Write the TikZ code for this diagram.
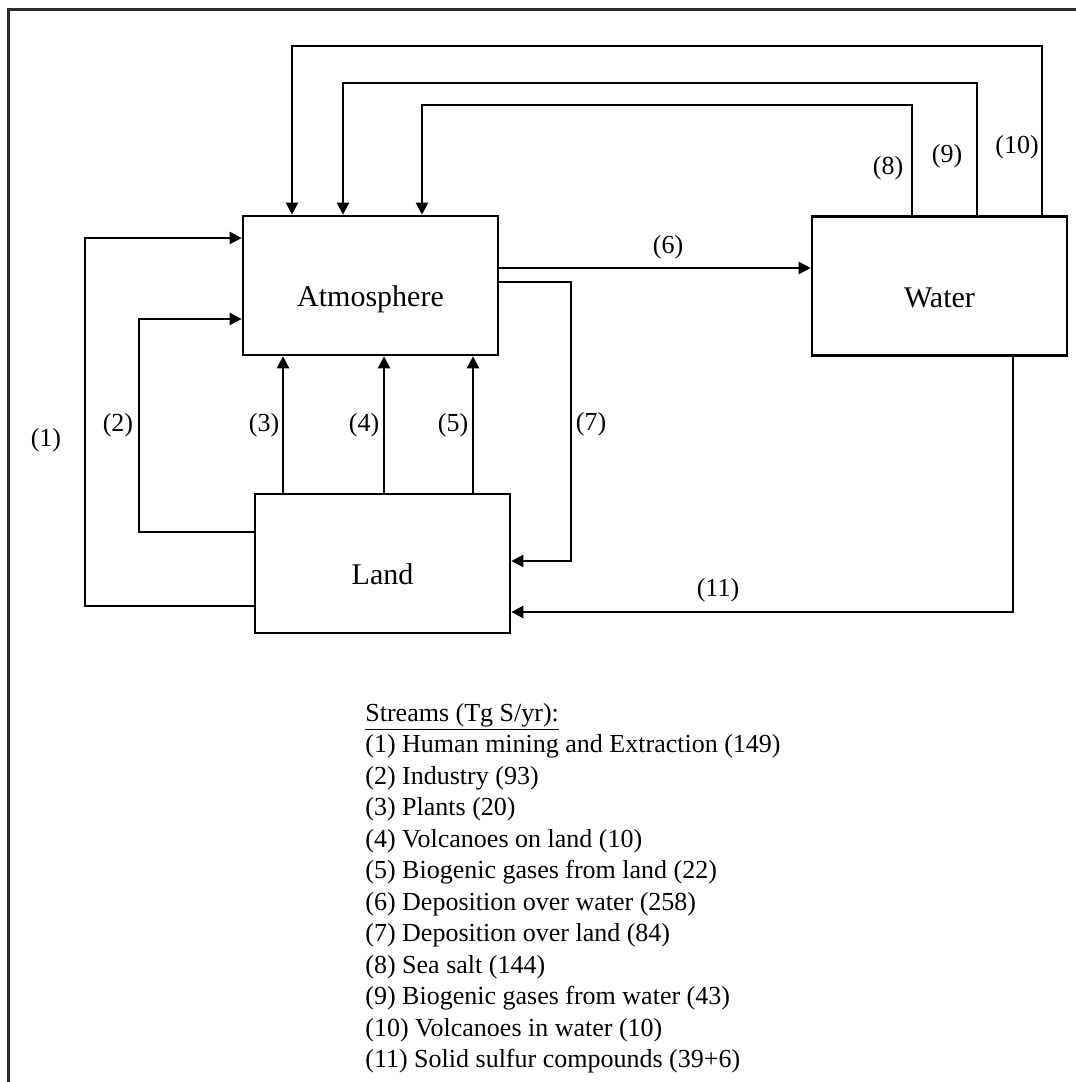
\documentclass[tikz,border=0pt]{standalone}
\usepackage{fontspec}
\setmainfont{Liberation Serif}
\usetikzlibrary{arrows.meta}
\definecolor{frameink}{HTML}{2B2B2B}
\tikzset{
  reservoir/.style={
    draw=black,
    line width=1.3pt,
    minimum width=127.5pt,
    minimum height=69.5pt,
    inner sep=0pt,
    text height=24.5pt,
    text depth=3.5pt,
    align=center,
    font=\fontsize{15}{18}\selectfont
  },
  flow/.style={
    -{Triangle[length=6pt,width=6pt]},
    draw=black,
    line width=1.15pt
  },
  streamlabel/.style={
    inner sep=0pt,
    font=\fontsize{13}{15.75}\selectfont
  },
  outline/.style={
    draw=frameink,
    line width=1.5pt
  }
}

\begin{document}
\begin{tikzpicture}[x=0.5pt,y=-0.5pt]
  \useasboundingbox (0,0) rectangle (1076,1082);
  \draw[outline] (8,1082) -- (8,9) -- (1076,9);

  \node[reservoir] (atm)   at (370.5,285.5) {Atmosphere};
  \node[reservoir] (land)  at (382.5,563.5) {Land};
  \node[reservoir] (water) at (939.5,286)   {Water};

  % land to atmosphere
  \draw[flow] (land.west |- 0,606) -| (85,238) -- (atm.west |- 0,238);
  \draw[flow] (land.west |- 0,532) -| (139,319) -- (atm.west |- 0,319);
  \draw[flow] (land.north -| 283,0) -- (atm.south -| 283,0);
  \draw[flow] (land.north -| 384,0) -- (atm.south -| 384,0);
  \draw[flow] (land.north -| 473,0) -- (atm.south -| 473,0);

  % deposition
  \draw[flow] (atm.east |- 0,268) -- (water.west |- 0,268);
  \draw[flow] (atm.east |- 0,282) -| (571,561) -- (land.east |- 0,561);

  % water to atmosphere
  \draw[flow] (water.north -| 912,0) |- (422,105) -- (atm.north -| 422,0);
  \draw[flow] (water.north -| 977,0) |- (343,83) -- (atm.north -| 343,0);
  \draw[flow] (water.north -| 1042,0) |- (292,46) -- (atm.north -| 292,0);

  % water to land
  \draw[flow] (water.south -| 1013,0) |- (land.east |- 0,612);

  \node[streamlabel] (s1)  at (46,440)   {(1)};
  \node[streamlabel] (s2)  at (118,425)  {(2)};
  \node[streamlabel] (s3)  at (264,425)  {(3)};
  \node[streamlabel] (s4)  at (364,425)  {(4)};
  \node[streamlabel] (s5)  at (453,425)  {(5)};
  \node[streamlabel] (s6)  at (668,247)  {(6)};
  \node[streamlabel] (s7)  at (591,424)  {(7)};
  \node[streamlabel] (s8)  at (888,168)  {(8)};
  \node[streamlabel] (s9)  at (947,156)  {(9)};
  \node[streamlabel] (s10) at (1017,147) {(10)};
  \node[streamlabel] (s11) at (718,590)  {(11)};

  \node[streamlabel, anchor=north west, align=left] (legend) at (365,703)
    {\underline{Streams (Tg S/yr):}\\
     (1) Human mining and Extraction (149)\\
     (2) Industry (93)\\
     (3) Plants (20)\\
     (4) Volcanoes on land (10)\\
     (5) Biogenic gases from land (22)\\
     (6) Deposition over water (258)\\
     (7) Deposition over land (84)\\
     (8) Sea salt (144)\\
     (9) Biogenic gases from water (43)\\
     (10) Volcanoes in water (10)\\
     (11) Solid sulfur compounds (39+6)};
\end{tikzpicture}
\end{document}
